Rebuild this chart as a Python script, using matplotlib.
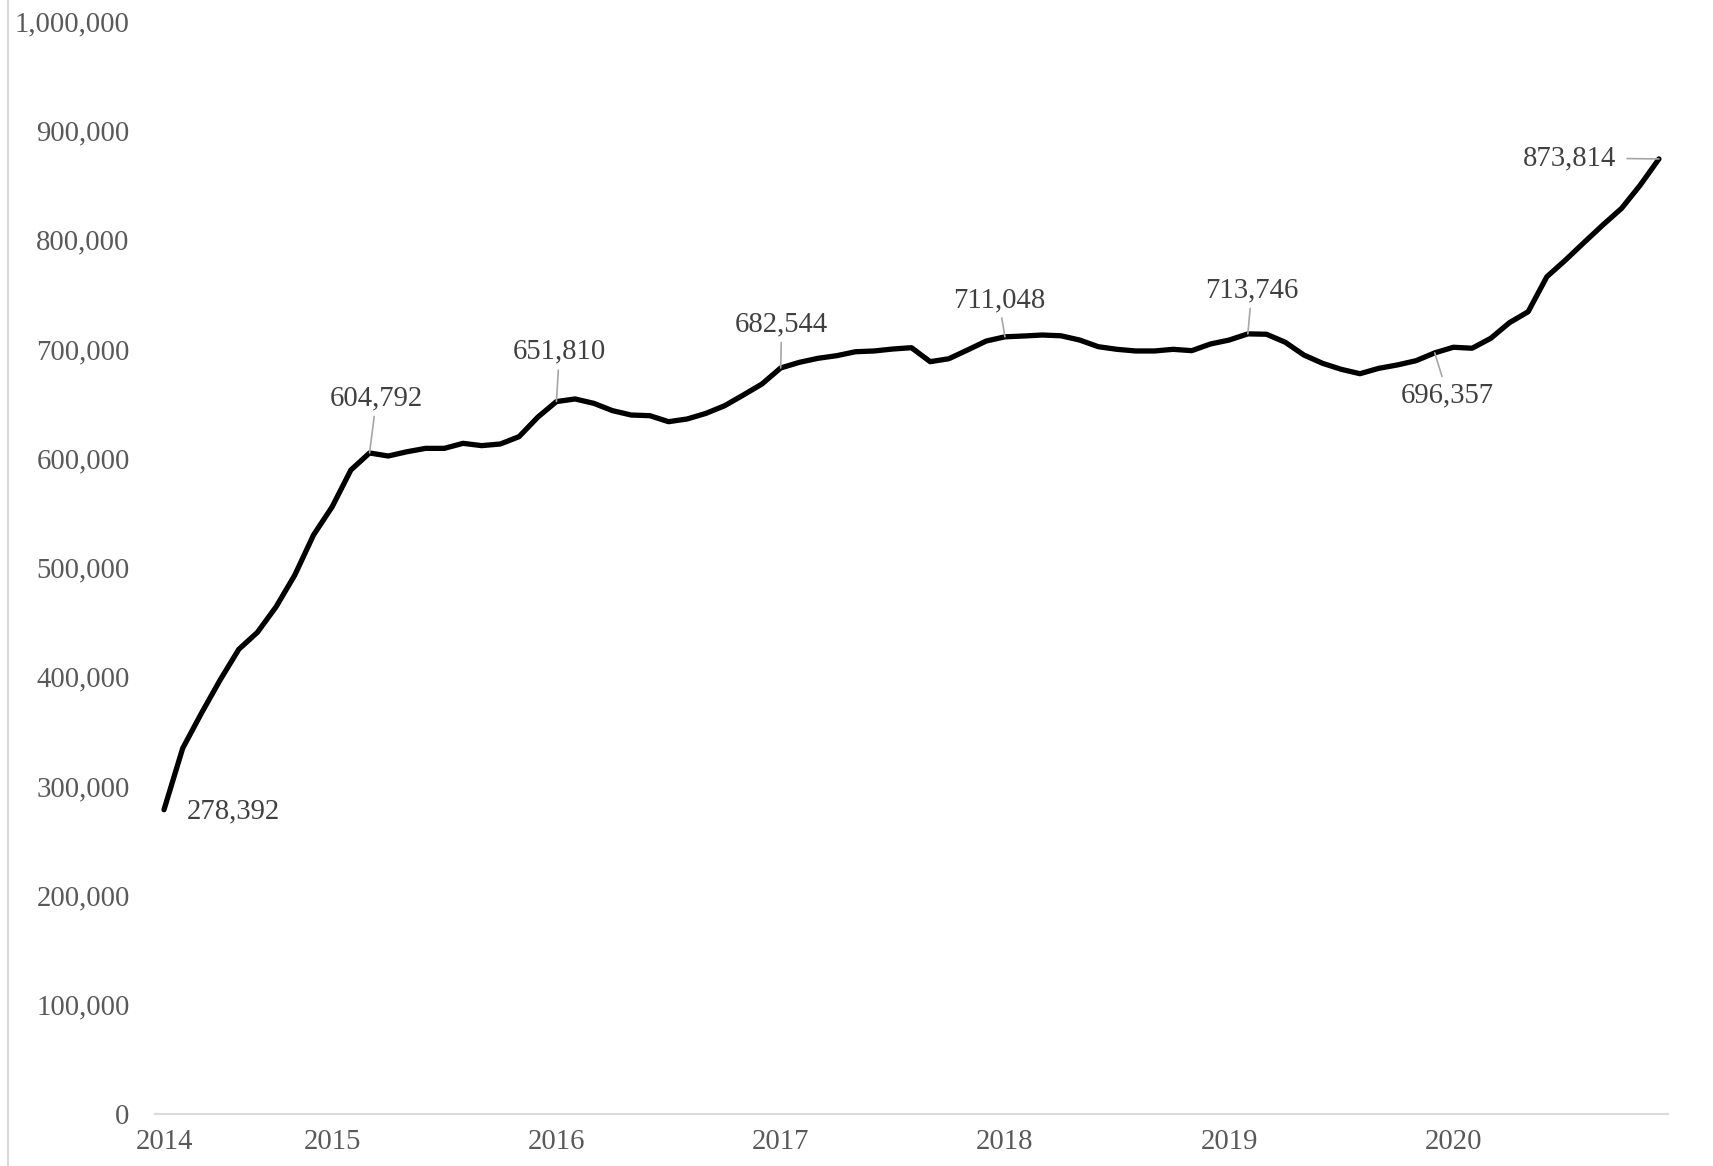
import matplotlib
matplotlib.use("Agg")
import matplotlib.pyplot as plt
from matplotlib.lines import Line2D

# Monthly values, Apr 2014 .. Dec 2020
values = [
    278392, 334600, 366600, 397000, 425100, 440700, 464100, 493100, 529700,   # 2014 Apr-Dec
    555600, 589200, 604792, 602000, 605900, 609000, 609000, 613600, 611500, 613000, 619700, 637500,  # 2015
    651810, 654200, 650200, 643500, 639500, 638900, 633400, 635900, 641000, 648000, 657800, 667900,  # 2016
    682544, 687700, 691400, 693800, 697400, 698100, 699900, 701100, 688300, 691000, 699000, 707200,  # 2017
    711048, 711800, 712700, 712000, 708100, 702000, 699600, 698100, 698100, 699600, 698400, 704500,  # 2018
    708100, 713746, 713400, 706100, 694400, 686800, 681300, 677300, 682200, 685300, 689200, 696357,  # 2019
    701500, 700600, 709700, 724000, 734000, 766000, 781300, 797500, 813400, 828600, 849900, 873814,  # 2020
]
year_labels = ["2014", "2015", "2016", "2017", "2018", "2019", "2020"]
year_tick_idx = [0, 9, 21, 33, 45, 57, 69]
y_ticks = list(range(0, 1000001, 100000))

# annotated points: (index, offset px (dx, dy), ha, leader, gap)
annotations = [
    (0, (23, -2), "left", False, 0),
    (11, (7, 55), "center", True, 2),
    (21, (3, 50), "center", True, 2),
    (33, (1, 44), "center", True, 2),
    (45, (-6, 36), "center", True, 1),
    (58, (4, 44), "center", True, 2),
    (68, (13, -42), "center", True, 2),
    (80, (-43, 1), "right", True, 6),
]

plt.rcParams["font.family"] = ["Liberation Serif", "DejaVu Serif"]

W, H, DPI = 1713, 1166, 100
fig = plt.figure(figsize=(W / DPI, H / DPI), dpi=DPI)
ax = fig.add_axes([154.66 / W, 1 - 1114 / H, (1668.3 - 154.66) / W, (1114 - 21) / H])

x = list(range(len(values)))
ax.plot(x, values, color="black", lw=3.8, solid_joinstyle="round", solid_capstyle="round", zorder=3)

ax.set_xlim(-0.5, len(values) - 0.5)
ax.set_ylim(0, 1000000)
ax.set_yticks(y_ticks)
ax.set_yticklabels([f"{v:,}" for v in y_ticks])
ax.set_xticks(year_tick_idx)
ax.set_xticklabels(year_labels)

for s in ["top", "right", "left"]:
    ax.spines[s].set_visible(False)
ax.spines["bottom"].set_color("#d9d9d9")
ax.spines["bottom"].set_linewidth(1.5)

ax.tick_params(axis="y", length=0, pad=18, labelsize=20.7, labelcolor="#595959")
ax.tick_params(axis="x", length=0, pad=11, labelsize=20.7, labelcolor="#595959")

for idx, (dx, dy), ha, leader, gap in annotations:
    v = values[idx]
    kw = {}
    if leader:
        kw["arrowprops"] = dict(arrowstyle="-", color="#a6a6a6", lw=1.2, shrinkA=gap, shrinkB=0)
    ax.annotate(f"{v:,}", xy=(idx, v), xytext=(dx, dy), textcoords="offset pixels",
                ha=ha, va="center", fontsize=20.7, color="#404040", zorder=4, **kw)

fig.add_artist(Line2D([7.5 / W, 7.5 / W], [0, 1], transform=fig.transFigure, color="#d9d9d9", lw=1.5))

fig.savefig("out.png", dpi=DPI)
